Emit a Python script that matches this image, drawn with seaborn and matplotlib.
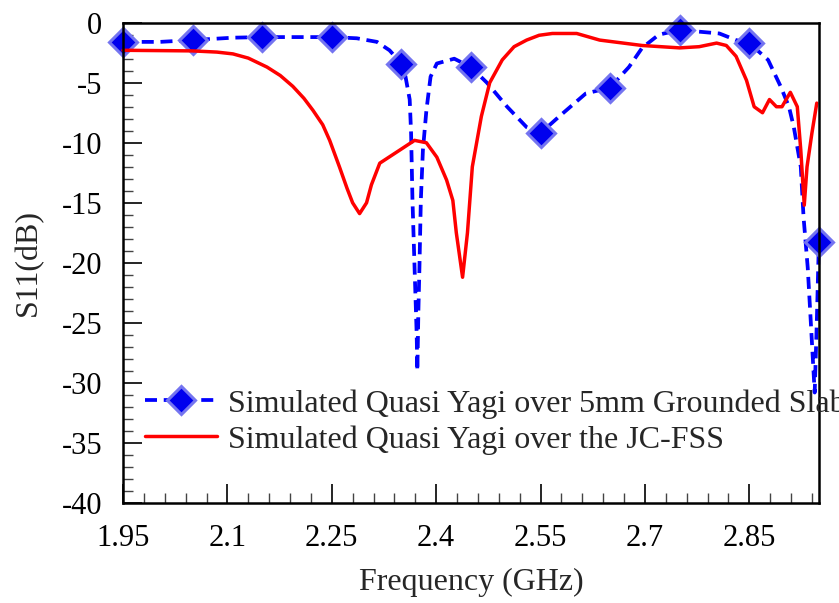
import numpy as np
import pandas as pd
import matplotlib
matplotlib.use('Agg')
import matplotlib.pyplot as plt
import seaborn as sns

# Simulated Quasi Yagi over 5mm Grounded Slab (blue dashed, diamonds every 0.1 GHz)
slab_freq = [1.95, 2.003, 2.05, 2.108, 2.15, 2.204, 2.25, 2.286, 2.315, 2.333, 2.35,
             2.356, 2.362, 2.364, 2.366, 2.369, 2.372, 2.373, 2.3745, 2.376, 2.378,
             2.381, 2.386, 2.392, 2.401, 2.426, 2.45, 2.473, 2.502, 2.530, 2.55,
             2.577, 2.615, 2.65, 2.677, 2.696, 2.720, 2.75, 2.778, 2.807, 2.831,
             2.85, 2.877, 2.895, 2.907, 2.914, 2.924, 2.928, 2.934, 2.938, 2.942,
             2.944, 2.947, 2.95]
slab_s11 = [-1.6, -1.6, -1.45, -1.25, -1.2, -1.2, -1.2, -1.3, -1.6, -2.3, -3.4,
            -4.5, -6.4, -9.2, -14.8, -20.4, -25.9, -29.0, -24.0, -20.4, -14.8,
            -10.6, -7.3, -4.5, -3.4, -3.0, -3.7, -5.0, -7.0, -8.7, -9.2,
            -7.8, -5.9, -5.4, -3.7, -2.1, -1.0, -0.6, -0.75, -0.9, -1.45,
            -1.7, -3.1, -5.3, -7.0, -8.7, -12.0, -16.2, -20.4, -24.5, -28.7,
            -30.8, -25.0, -18.3]
marker_freq = [1.95, 2.05, 2.15, 2.25, 2.35, 2.45, 2.55, 2.65, 2.75, 2.85, 2.95]

# Simulated Quasi Yagi over the JC-FSS (red solid)
fss_freq = [1.95, 2.05, 2.085, 2.108, 2.13, 2.157, 2.176, 2.194, 2.21, 2.223, 2.237,
            2.247, 2.261, 2.272, 2.280, 2.290,
            2.300, 2.307, 2.319, 2.348, 2.369, 2.386, 2.401, 2.415, 2.424, 2.429,
            2.438, 2.445, 2.452, 2.465, 2.477, 2.495, 2.512, 2.530, 2.548, 2.567,
            2.602, 2.635, 2.696, 2.750, 2.778, 2.803, 2.817, 2.831, 2.846, 2.857,
            2.869, 2.879, 2.889, 2.897, 2.909, 2.919, 2.924, 2.929, 2.933, 2.940,
            2.947]
fss_s11 = [-2.3, -2.35, -2.45, -2.6, -2.95, -3.7, -4.4, -5.3, -6.3, -7.3, -8.5,
           -9.8, -12.0, -13.8, -15.0, -15.9,
           -15.0, -13.5, -11.7, -10.6, -9.8, -10.0, -11.2, -13.1, -14.8, -17.5,
           -21.2, -17.5, -12.0, -7.8, -5.0, -3.1, -2.0, -1.45, -1.05, -0.9,
           -0.9, -1.45, -1.9, -2.1, -2.0, -1.7, -1.9, -2.8, -4.8, -7.0,
           -7.5, -6.4, -7.0, -7.0, -5.8, -7.0, -10.6, -15.2, -12.0, -9.2,
           -6.7]

x_ticks = [1.95, 2.1, 2.25, 2.4, 2.55, 2.7, 2.85]
y_ticks = [0, -5, -10, -15, -20, -25, -30, -35, -40]

slab_label = 'Simulated Quasi Yagi over 5mm Grounded Slab'
fss_label = 'Simulated Quasi Yagi over the JC-FSS'

df_slab = pd.DataFrame({'freq': slab_freq, 's11': slab_s11})
df_fss = pd.DataFrame({'freq': fss_freq, 's11': fss_s11})
mark_idx = [slab_freq.index(f) for f in marker_freq]

sns.set_style('ticks')
plt.rcParams['font.family'] = ['Liberation Serif', 'DejaVu Serif']
plt.rcParams['axes.unicode_minus'] = False

fig = plt.figure(figsize=(8.39, 6.03), dpi=100)
ax = fig.add_axes([0.1466, 0.1658, 0.8294, 0.7966])

sns.lineplot(data=df_slab, x='freq', y='s11', ax=ax, color='#0000ff', lw=2.7,
             linestyle=(0, (3.2, 1.8)), marker='D', markersize=14, markevery=mark_idx,
             markerfacecolor='#0000ee', markeredgecolor='#7474f0', markeredgewidth=2.2,
             label=slab_label, sort=False)
sns.lineplot(data=df_fss, x='freq', y='s11', ax=ax, color='#ff0000', lw=2.5,
             label=fss_label, sort=False)

for line in ax.get_lines():
    line.set_clip_on(False)

ax.set_xlim(1.95, 2.95)
ax.set_ylim(-40, 0)
ax.set_xticks(x_ticks)
ax.set_xticklabels([f'{t:g}' for t in x_ticks])
ax.set_yticks(y_ticks)
ax.set_yticklabels([str(t) for t in y_ticks])
ax.set_xticks(np.arange(1.95, 2.951, 0.03), minor=True)
ax.set_yticks(np.arange(-40, 0.1, 1), minor=True)
ax.tick_params(which='major', direction='in', length=14, width=1.2, labelsize=22,
               colors='black')
ax.tick_params(axis='x', which='major', pad=15)
ax.tick_params(axis='y', which='major', pad=15)
ax.tick_params(which='minor', direction='in', length=7, width=1.0, color='#444444')
for sp in ax.spines.values():
    sp.set_linewidth(1.8)
    sp.set_color('black')

ax.set_xlabel('Frequency (GHz)', fontsize=23, labelpad=11)
ax.set_ylabel('S11(dB)', fontsize=23, labelpad=13)

leg = ax.legend(loc='upper left', bbox_to_anchor=(0.0316, 0.237), frameon=False,
                fontsize=23, handlelength=2.25, handletextpad=0.35, labelspacing=0.2,
                borderaxespad=0, borderpad=0)

plt.savefig('out.png', dpi=100)
